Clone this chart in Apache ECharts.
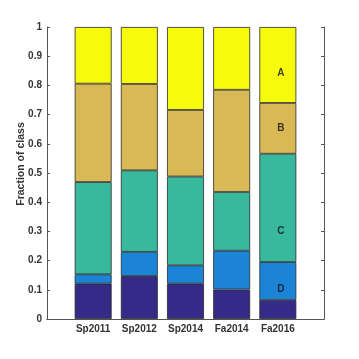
<!DOCTYPE html>
<html><head><meta charset="utf-8">
<script src="https://cdn.jsdelivr.net/npm/echarts@6/dist/echarts.min.js"></script>
<style>html,body{margin:0;padding:0;background:#fff}#c{width:359px;height:359px}</style>
</head><body><div id="c"></div>
<script>
var categories = ['', 'Sp2011', 'Sp2012', 'Sp2014', 'Fa2014', 'Fa2016', ''];
var classE = [null, 0.121, 0.147, 0.121, 0.101, 0.065, null];
var classD = [null, 0.032, 0.083, 0.063, 0.133, 0.130, null];
var classC = [null, 0.316, 0.279, 0.304, 0.201, 0.371, null];
var classB = [null, 0.337, 0.296, 0.228, 0.350, 0.174, null];
var classA = [null, 0.194, 0.195, 0.284, 0.215, 0.260, null];
var labelNames = ['A', 'B', 'C', 'D'];
var labelY = [0.84, 0.654, 0.302, 0.101];
var yTicks = [0, 0.1, 0.2, 0.3, 0.4, 0.5, 0.6, 0.7, 0.8, 0.9, 1];

var colors = ['#352a87', '#1b84d6', '#38b99e', '#d8b955', '#f8fa0e'];
var seriesData = [classE, classD, classC, classB, classA];
var series = seriesData.map(function (d, i) {
  return {
    type: 'bar', stack: 's', data: d, barWidth: '80%',
    itemStyle: { color: colors[i], borderColor: '#2a2a2a', borderWidth: 0.8 },
    animation: false
  };
});
series.push({
  type: 'scatter', symbolSize: 0, animation: false,
  data: labelNames.map(function (n, i) { return { value: ['Fa2016', labelY[i]], name: n }; }),
  label: { show: true, position: 'inside', offset: [3, 0], formatter: '{b}',
    fontFamily: 'Liberation Sans, Arial, sans-serif', fontWeight: 'bold', fontSize: 10, color: '#111' },
  z: 10
});
var axisText = { fontFamily: 'Liberation Sans, Arial, sans-serif', fontWeight: 'bold', fontSize: 10, color: '#333' };
var chart = echarts.init(document.getElementById('c'));
chart.setOption({
  backgroundColor: '#fff',
  grid: { left: 47, right: 35, top: 27, bottom: 40, containLabel: false },
  xAxis: [{
    type: 'category', data: categories, boundaryGap: false,
    axisLine: { lineStyle: { color: '#555', width: 1 } },
    axisTick: { show: false },
    axisLabel: Object.assign({ margin: 5, interval: 0 }, axisText),
    splitLine: { show: false }
  }, {
    type: 'category', data: categories, boundaryGap: false, position: 'top',
    axisLine: { show: true, lineStyle: { color: '#555', width: 1 } },
    axisTick: { show: false }, axisLabel: { show: false }
  }],
  yAxis: [{
    type: 'value', min: 0, max: 1, interval: 0.1,
    name: 'Fraction of class', nameLocation: 'middle', nameGap: 20, nameMoveOverlap: false,
    nameTextStyle: { fontFamily: 'Liberation Sans, Arial, sans-serif', fontWeight: 'bold', fontSize: 10.5, color: '#333', padding: [0, 0, 0, 18] },
    axisLine: { show: true, lineStyle: { color: '#555', width: 1 } },
    axisTick: { show: true, inside: true, length: 3, lineStyle: { color: '#555' } },
    axisLabel: Object.assign({ margin: 5, formatter: function (v) { return String(Math.round(v * 10) / 10); } }, axisText),
    splitLine: { show: false }
  }, {
    type: 'value', min: 0, max: 1, interval: 0.1, position: 'right',
    axisLine: { show: true, lineStyle: { color: '#555', width: 1 } },
    axisTick: { show: true, inside: true, length: 3, lineStyle: { color: '#555' } },
    axisLabel: { show: false }, splitLine: { show: false }
  }],
  series: series
});
</script></body></html>
